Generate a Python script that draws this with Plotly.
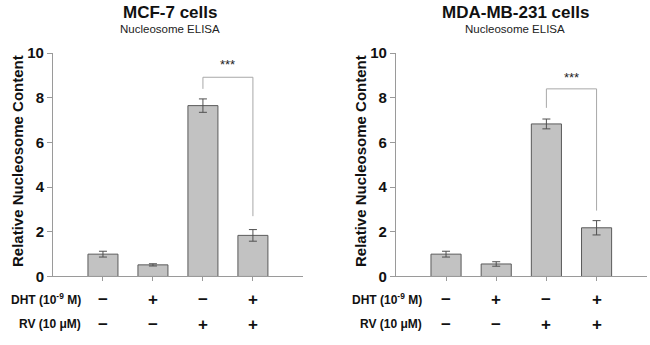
import plotly.graph_objects as go

categories = [1, 2, 3, 4]
dht_signs = ["−", "+", "−", "+"]
rv_signs = ["−", "−", "+", "+"]

mcf7_values = [1.0, 0.52, 7.65, 1.84]
mcf7_errors = [0.13, 0.05, 0.3, 0.26]
mda_values = [1.0, 0.56, 6.83, 2.18]
mda_errors = [0.13, 0.1, 0.22, 0.32]

# bracket: [left bottom, top, right bottom], star y
mcf7_bracket = [8.4, 8.92, 2.7]
mcf7_star_y = 9.5
mda_bracket = [7.55, 8.4, 2.95]
mda_star_y = 8.9

titles = ["MCF-7 cells", "MDA-MB-231 cells"]
subtitle = "Nucleosome ELISA"
y_title = "Relative Nucleosome Content"
yticks = [0, 2, 4, 6, 8, 10]

FONT = "Liberation Sans, Arial, sans-serif"
fig = go.Figure()

panels = [
    ("x", "y", mcf7_values, mcf7_errors, mcf7_bracket, mcf7_star_y, [0.0815, 0.466]),
    ("x2", "y2", mda_values, mda_errors, mda_bracket, mda_star_y, [0.609, 0.995]),
]

for xa, ya, vals, errs, br, sy, dom in panels:
    fig.add_trace(go.Bar(
        x=categories, y=vals, xaxis=xa, yaxis=ya, width=0.6,
        marker=dict(color="#c2c2c2", line=dict(color="#5a5a5a", width=1)),
        error_y=dict(type="data", array=errs, visible=True, color="#505050", thickness=1, width=4),
        showlegend=False,
    ))
    # bracket
    fig.add_trace(go.Scatter(
        x=[categories[2], categories[2], categories[3], categories[3]],
        y=[br[0], br[1], br[1], br[2]],
        xaxis=xa, yaxis=ya, mode="lines",
        line=dict(color="#a8a8a8", width=1), showlegend=False, hoverinfo="skip",
    ))
    fig.add_annotation(x=(categories[2] + categories[3]) / 2, y=sy, xref=xa, yref=ya,
                       text="***", showarrow=False, font=dict(family=FONT, size=13, color="#222"))

axis_common = dict(showgrid=False, zeroline=False, showline=True, linecolor="#9a9a9a",
                   linewidth=1, automargin=False)
tickfont = dict(family=FONT, size=15, color="#111", weight="bold")
y_dom = [0.1986, 0.846]
fig.update_layout(
    width=650, height=345, margin=dict(l=0, r=0, t=0, b=0, autoexpand=False),
    paper_bgcolor="white", plot_bgcolor="white",
    font=dict(family=FONT),
    xaxis=dict(domain=panels[0][6], range=[0, 5], tickvals=categories, ticks="outside",
               ticklen=4, tickcolor="#9a9a9a", showticklabels=False, anchor="y", **axis_common),
    yaxis=dict(domain=y_dom, range=[0, 10], tickvals=yticks, ticks="outside", ticklen=5,
               tickcolor="#9a9a9a", anchor="x", tickfont=tickfont, **axis_common),
    xaxis2=dict(domain=panels[1][6], range=[0, 5], tickvals=categories, ticks="outside",
                ticklen=4, tickcolor="#9a9a9a", showticklabels=False, anchor="y2", **axis_common),
    yaxis2=dict(domain=y_dom, range=[0, 10], tickvals=yticks, ticks="outside", ticklen=5,
                tickcolor="#9a9a9a", anchor="x2", tickfont=tickfont, **axis_common),
)

# titles and axis titles
for i, (cx, ytx) in enumerate([(170, 17), (515, 360)]):
    fig.add_annotation(x=cx / 650, y=1 - 13 / 345, xref="paper", yref="paper",
                       xanchor="center", yanchor="middle",
                       text="<b>" + titles[i] + "</b>", showarrow=False,
                       font=dict(family=FONT, size=17, color="#111"))
    fig.add_annotation(x=cx / 650, y=1 - 29 / 345, xref="paper", yref="paper",
                       xanchor="center", yanchor="middle",
                       text=subtitle, showarrow=False,
                       font=dict(family=FONT, size=11.5, color="#222"))
    fig.add_annotation(x=ytx / 650, y=1 - 161 / 345, xref="paper", yref="paper",
                       xanchor="center", yanchor="middle",
                       text="<b>" + y_title + "</b>", textangle=-90, showarrow=False,
                       font=dict(family=FONT, size=15, color="#111"))

# treatment rows
for xa, lab_x in [("x", 83), ("x2", 424)]:
    fig.add_annotation(x=lab_x / 650, y=1 - 299 / 345, xref="paper", yref="paper",
                       text="<b>DHT (10<sup>-9</sup> M)</b>", showarrow=False, xanchor="right",
                       yanchor="middle", font=dict(family=FONT, size=12, color="#111"))
    fig.add_annotation(x=lab_x / 650, y=1 - 324 / 345, xref="paper", yref="paper",
                       text="<b>RV (10 μM)</b>", showarrow=False, xanchor="right",
                       yanchor="middle", font=dict(family=FONT, size=12, color="#111"))
    for c, d, r in zip(categories, dht_signs, rv_signs):
        fig.add_annotation(x=c, y=1 - 299 / 345, xref=xa, yref="paper", text="<b>" + d + "</b>",
                           xanchor="center", yanchor="middle",
                           showarrow=False, font=dict(family=FONT, size=17, color="#111"))
        fig.add_annotation(x=c, y=1 - 324 / 345, xref=xa, yref="paper", text="<b>" + r + "</b>",
                           xanchor="center", yanchor="middle",
                           showarrow=False, font=dict(family=FONT, size=17, color="#111"))

fig.write_html("out.html", config={"displayModeBar": False, "staticPlot": True},
               post_script="document.body.style.margin='0';")
